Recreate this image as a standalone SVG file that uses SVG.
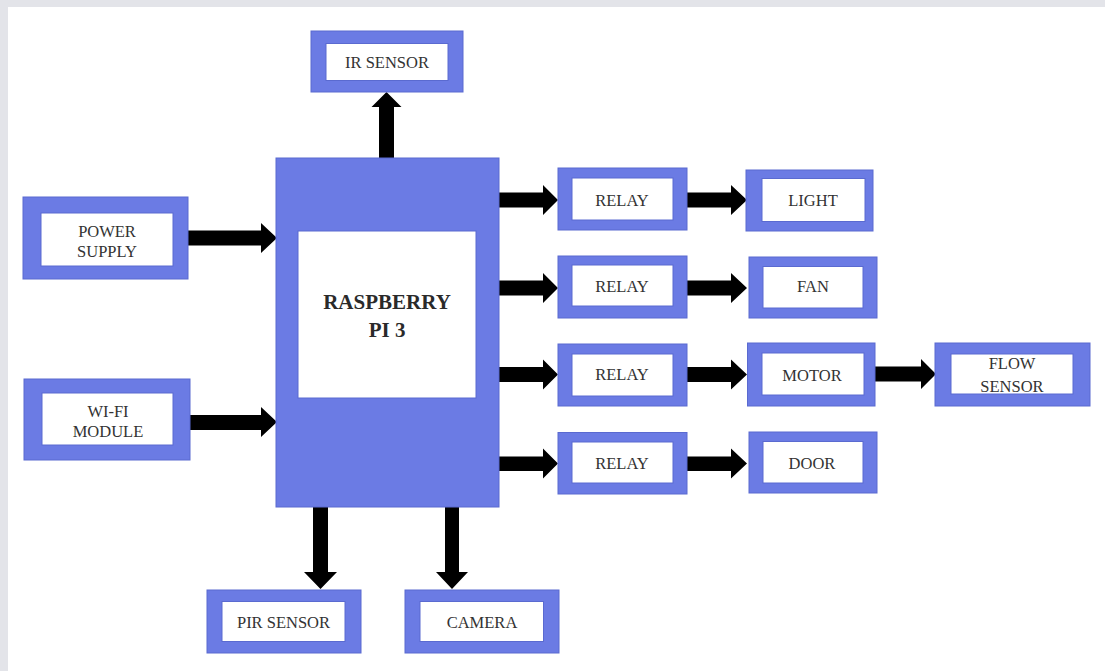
<svg xmlns="http://www.w3.org/2000/svg" width="1105" height="671" viewBox="0 0 1105 671">
<style>
.o{fill:#6b7be4;stroke:#5a6ad0;stroke-width:1}
.i{fill:#ffffff;stroke:#5a6ad0;stroke-width:1}
.t{font-family:"Liberation Serif","Times New Roman",serif;font-size:16.5px;fill:#333333;text-anchor:middle}
.b{font-family:"Liberation Serif","Times New Roman",serif;font-size:21px;font-weight:bold;fill:#2a2a2a;text-anchor:middle}
.a{fill:#000000}
</style>
<rect x="0" y="0" width="1105" height="671" fill="#ffffff"/>
<rect x="0" y="0" width="1105" height="7" fill="#e3e4e9"/>
<rect x="0" y="0" width="8" height="671" fill="#e3e4e9"/>

<g id="connectors">
<polygon class="a" points="379,158 379,107 371.5,107 386.5,92 401.5,107 394,107 394,158"/>
<polygon class="a" points="187,230.5 261,230.5 261,223 277,238 261,253 261,245.5 187,245.5"/>
<polygon class="a" points="190,415 261,415 261,407 277,422 261,437 261,430 190,430"/>
<polygon class="a" points="313,507 313,572 304,572 320.5,589 337,572 328,572 328,507"/>
<polygon class="a" points="445,507 445,572 436,572 452,589 468,572 459,572 459,507"/>
<polygon class="a" points="499,192.5 543,192.5 543,185 558,200 543,215 543,207.5 499,207.5"/>
<polygon class="a" points="499,280.5 543,280.5 543,273 558,288 543,303 543,295.5 499,295.5"/>
<polygon class="a" points="499,367 543,367 543,359.5 558,374.5 543,389.5 543,382 499,382"/>
<polygon class="a" points="499,456.5 543,456.5 543,448.5 558,463.5 543,478.5 543,471 499,471"/>
<polygon class="a" points="687,192.5 731,192.5 731,185 747,200 731,215 731,207.5 687,207.5"/>
<polygon class="a" points="687,280.5 731,280.5 731,273 747,288 731,303 731,295.5 687,295.5"/>
<polygon class="a" points="687,367 731,367 731,359.5 747,374.5 731,389.5 731,382 687,382"/>
<polygon class="a" points="687,456.5 731,456.5 731,448.5 747,463.5 731,478.5 731,471 687,471"/>
<polygon class="a" points="875,366.5 921,366.5 921,359 936,374 921,389 921,381.5 875,381.5"/>
</g>

<g id="raspberry">
<rect class="o" x="276" y="158" width="223" height="349"/>
<rect class="i" x="298" y="231" width="178" height="167"/>
<text class="b" x="387" y="309">RASPBERRY</text>
<text class="b" x="387" y="337">PI 3</text>
</g>

<g id="ir-sensor">
<rect class="o" x="311" y="31" width="152" height="61"/>
<rect class="i" x="326" y="43.5" width="122" height="37"/>
<text class="t" x="387" y="67.5">IR SENSOR</text>
</g>

<g id="power-supply">
<rect class="o" x="23" y="197" width="165" height="82"/>
<rect class="i" x="41" y="213" width="132" height="53"/>
<text class="t" x="107" y="237">POWER</text>
<text class="t" x="107" y="257">SUPPLY</text>
</g>

<g id="wifi-module">
<rect class="o" x="24" y="379" width="166" height="81"/>
<rect class="i" x="42" y="393" width="131" height="52"/>
<text class="t" x="108" y="417">WI-FI</text>
<text class="t" x="108" y="437">MODULE</text>
</g>

<g id="relay1">
<rect class="o" x="558" y="168" width="129" height="62"/>
<rect class="i" x="572" y="178" width="101" height="42"/>
<text class="t" x="622" y="205.5">RELAY</text>
</g>
<g id="relay2">
<rect class="o" x="558" y="256" width="129" height="62"/>
<rect class="i" x="572" y="265" width="101" height="41"/>
<text class="t" x="622" y="292">RELAY</text>
</g>
<g id="relay3">
<rect class="o" x="558" y="344" width="129" height="62"/>
<rect class="i" x="572" y="354" width="101" height="42"/>
<text class="t" x="622" y="380">RELAY</text>
</g>
<g id="relay4">
<rect class="o" x="558" y="432.5" width="129" height="61.5"/>
<rect class="i" x="572" y="442" width="101" height="41"/>
<text class="t" x="622" y="469">RELAY</text>
</g>

<g id="light">
<rect class="o" x="746" y="170" width="127" height="61"/>
<rect class="i" x="762" y="178.5" width="103" height="43"/>
<text class="t" x="813" y="206">LIGHT</text>
</g>
<g id="fan">
<rect class="o" x="749" y="257" width="128" height="61"/>
<rect class="i" x="763" y="266.5" width="100" height="41.5"/>
<text class="t" x="813" y="292">FAN</text>
</g>
<g id="motor">
<rect class="o" x="747.5" y="343" width="127.5" height="63"/>
<rect class="i" x="762" y="353" width="102" height="42"/>
<text class="t" x="812" y="380.5">MOTOR</text>
</g>
<g id="door">
<rect class="o" x="749" y="432" width="128" height="61"/>
<rect class="i" x="763" y="441.5" width="100" height="41.5"/>
<text class="t" x="812" y="469">DOOR</text>
</g>
<g id="flow-sensor">
<rect class="o" x="935" y="343" width="155" height="63"/>
<rect class="i" x="951" y="354" width="122" height="40"/>
<text class="t" x="1012" y="369">FLOW</text>
<text class="t" x="1012" y="392">SENSOR</text>
</g>

<g id="pir-sensor">
<rect class="o" x="207" y="590" width="154" height="63"/>
<rect class="i" x="222" y="601.5" width="123" height="40"/>
<text class="t" x="283.5" y="628">PIR SENSOR</text>
</g>
<g id="camera">
<rect class="o" x="405" y="590" width="154" height="63"/>
<rect class="i" x="420" y="601.5" width="123.5" height="40"/>
<text class="t" x="482" y="628">CAMERA</text>
</g>
</svg>
